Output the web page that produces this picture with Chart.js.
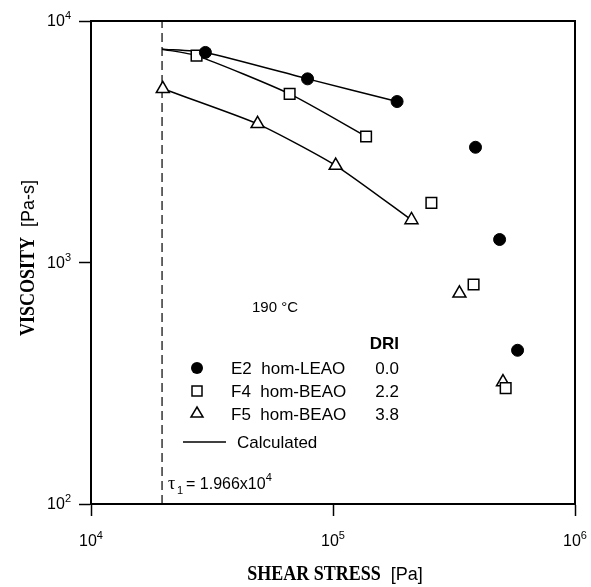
<!DOCTYPE html>
<html>
<head>
<meta charset="utf-8">
<script src="https://cdn.jsdelivr.net/npm/chart.js@4.4.1/dist/chart.umd.min.js"></script>
<style>
  html, body { margin: 0; padding: 0; background: #fff; }
</style>
</head>
<body>
<canvas id="myChart" width="591" height="587"></canvas>
<script>
// measured points (shear stress [Pa], viscosity [Pa-s])
var e2Stress = [29700, 78500, 184000, 388000, 488000, 579000];
var e2Visc   = [7410, 5760, 4640, 3000, 1245, 433];
var f4Stress = [27300, 66200, 137000, 255000, 381000, 517000];
var f4Visc   = [7190, 4990, 3325, 1765, 811, 302];
var f5Stress = [19800, 48800, 102600, 211000, 333000, 504000];
var f5Visc   = [5240, 3750, 2520, 1500, 745, 320];

// calculated curves
var e2CalcStress = [19660, 29700, 78500, 184000];
var e2CalcVisc   = [7640, 7410, 5760, 4640];
var f4CalcStress = [19660, 27300, 66200, 137000];
var f4CalcVisc   = [7640, 7190, 4990, 3325];
var f5CalcStress = [19800, 48800, 102600, 211000];
var f5CalcVisc   = [5240, 3750, 2520, 1500];

var tau1 = 19660;
var xTicks = [1e4, 1e5, 1e6];
var yTicks = [1e2, 1e3, 1e4];

function pts(xs, ys) {
    return xs.map(function (x, i) { return { x: x, y: ys[i] }; });
}

var SANS = '"Liberation Sans", Arial, Helvetica, sans-serif';
var SERIF = '"Liberation Serif", "Times New Roman", serif';

// draws "10" with a raised exponent
function powerLabel(ctx, val, x, y, align) {
    var exp = String(Math.round(Math.log10(val)));
    ctx.font = '16px ' + SANS;
    var wb = ctx.measureText('10').width;
    ctx.font = '11px ' + SANS;
    var we = ctx.measureText(exp).width;
    var x0 = align === 'right' ? x - wb - we : x - (wb + we) / 2;
    ctx.textBaseline = 'middle';
    ctx.textAlign = 'left';
    ctx.font = '16px ' + SANS;
    ctx.fillText('10', x0, y);
    ctx.font = '11px ' + SANS;
    ctx.fillText(exp, x0 + wb, y - 6);
}

// axis title: condensed bold serif word + sans unit, centred on (0,0)
var SX = 0.9;
function axisTitle(c, word, unit) {
    c.textBaseline = 'alphabetic';
    c.textAlign = 'left';
    c.font = 'bold 20px ' + SERIF;
    var w1 = c.measureText(word).width * SX;
    c.font = '18px ' + SANS;
    var w2 = c.measureText(unit).width;
    var gap = 10;
    var x0 = -(w1 + gap + w2) / 2;
    c.save();
    c.scale(SX, 1);
    c.font = 'bold 20px ' + SERIF;
    c.fillText(word, x0 / SX, 0);
    c.restore();
    c.font = '18px ' + SANS;
    c.fillText(unit, x0 + w1 + gap, 0);
}

var decor = {
    id: 'decor',
    afterDraw: function (chart) {
        var c = chart.ctx, a = chart.chartArea;
        var xs = chart.scales.x, ys = chart.scales.y;
        c.save();
        c.fillStyle = '#000';
        c.strokeStyle = '#000';

        // top and right frame
        c.lineWidth = 2;
        c.beginPath();
        c.moveTo(a.left, a.top);
        c.lineTo(a.right, a.top);
        c.lineTo(a.right, a.bottom);
        c.stroke();

        // tick labels
        xTicks.forEach(function (v) {
            powerLabel(c, v, xs.getPixelForValue(v), a.bottom + 38, 'center');
        });
        yTicks.forEach(function (v) {
            powerLabel(c, v, a.left - 20, ys.getPixelForValue(v) + 1, 'right');
        });

        // axis titles
        c.save();
        c.translate(335, 580);
        axisTitle(c, 'SHEAR STRESS', '[Pa]');
        c.restore();

        c.save();
        c.translate(34, 258);
        c.rotate(-Math.PI / 2);
        axisTitle(c, 'VISCOSITY', '[Pa-s]');
        c.restore();

        // annotations
        c.textBaseline = 'alphabetic';
        c.textAlign = 'left';
        c.font = '15px ' + SANS;
        c.fillText('190 \u00B0C', 252, 312);
        c.font = 'bold 17px ' + SANS;
        c.textAlign = 'right';
        c.fillText('DRI', 399, 349);
        c.font = '17px ' + SANS;
        var rows = [['E2  hom-LEAO', '0.0'], ['F4  hom-BEAO', '2.2'], ['F5  hom-BEAO', '3.8']];
        rows.forEach(function (r, i) {
            var yy = 374 + i * 23;
            c.textAlign = 'left';
            c.fillText(r[0], 231, yy);
            c.textAlign = 'right';
            c.fillText(r[1], 399, yy);
        });
        // legend markers
        c.lineWidth = 1.5;
        c.beginPath();
        c.arc(197, 368, 6, 0, Math.PI * 2);
        c.fill();
        c.strokeRect(192, 386, 10, 10);
        c.beginPath();
        c.moveTo(197, 407);
        c.lineTo(203, 417);
        c.lineTo(191, 417);
        c.closePath();
        c.stroke();
        c.beginPath();
        c.moveTo(183, 442);
        c.lineTo(226, 442);
        c.stroke();
        c.textAlign = 'left';
        c.fillText('Calculated', 237, 448);

        // tau label
        c.font = '18px ' + SERIF;
        c.fillText('\u03C4', 168, 489);
        c.font = '11px ' + SANS;
        c.fillText('1', 177, 494);
        c.font = '16px ' + SANS;
        c.fillText('= 1.966x10', 186, 489);
        var tw = c.measureText('= 1.966x10').width;
        c.font = '11px ' + SANS;
        c.fillText('4', 186 + tw, 481);
        c.restore();
    }
};

function logAxis(ticks, min, max) {
    return {
        type: 'logarithmic',
        min: min,
        max: max,
        afterBuildTicks: function (s) {
            s.ticks = ticks.map(function (v) { return { value: v, major: true }; });
        },
        ticks: { display: false },
        grid: { drawOnChartArea: false, tickLength: 12, tickColor: '#000', tickWidth: 1.5 },
        border: { color: '#000', width: 2 }
    };
}

var xAxis = logAxis(xTicks, 1e4, 1e6);
xAxis.afterFit = function (s) { s.height = 83; };
var yAxis = logAxis(yTicks, 1e2, 1e4);
yAxis.afterFit = function (s) { s.width = 91; };

var ctx = document.getElementById('myChart').getContext('2d');
var chart = new Chart(ctx, {
    type: 'scatter',
    data: {
        datasets: [
            { label: 'E2 hom-LEAO', data: pts(e2Stress, e2Visc), pointStyle: 'circle', pointRadius: 6,
              backgroundColor: '#000', borderColor: '#000', borderWidth: 1 },
            { label: 'F4 hom-BEAO', data: pts(f4Stress, f4Visc), pointStyle: 'rect', pointRadius: 7.5,
              backgroundColor: '#fff', borderColor: '#000', borderWidth: 1.5 },
            { label: 'F5 hom-BEAO', data: pts(f5Stress, f5Visc), pointStyle: 'triangle', pointRadius: 7.5,
              backgroundColor: '#fff', borderColor: '#000', borderWidth: 1.5 },
            { label: 'E2 calc', data: pts(e2CalcStress, e2CalcVisc), showLine: true, pointRadius: 0,
              borderColor: '#000', borderWidth: 1.5, tension: 0.2 },
            { label: 'F4 calc', data: pts(f4CalcStress, f4CalcVisc), showLine: true, pointRadius: 0,
              borderColor: '#000', borderWidth: 1.5, tension: 0.2 },
            { label: 'F5 calc', data: pts(f5CalcStress, f5CalcVisc), showLine: true, pointRadius: 0,
              borderColor: '#000', borderWidth: 1.5, tension: 0.2 },
            { label: 'tau1', data: [{ x: tau1, y: 1e2 }, { x: tau1, y: 1e4 }], showLine: true, pointRadius: 0,
              borderColor: '#000', borderWidth: 1.2, borderDash: [9, 5] }
        ]
    },
    options: {
        responsive: false,
        animation: false,
        devicePixelRatio: 1,
        layout: { padding: { left: 0, top: 21, right: 16, bottom: 0 } },
        plugins: { legend: { display: false }, tooltip: { enabled: false } },
        scales: { x: xAxis, y: yAxis }
    },
    plugins: [decor]
});
</script>
</body>
</html>
